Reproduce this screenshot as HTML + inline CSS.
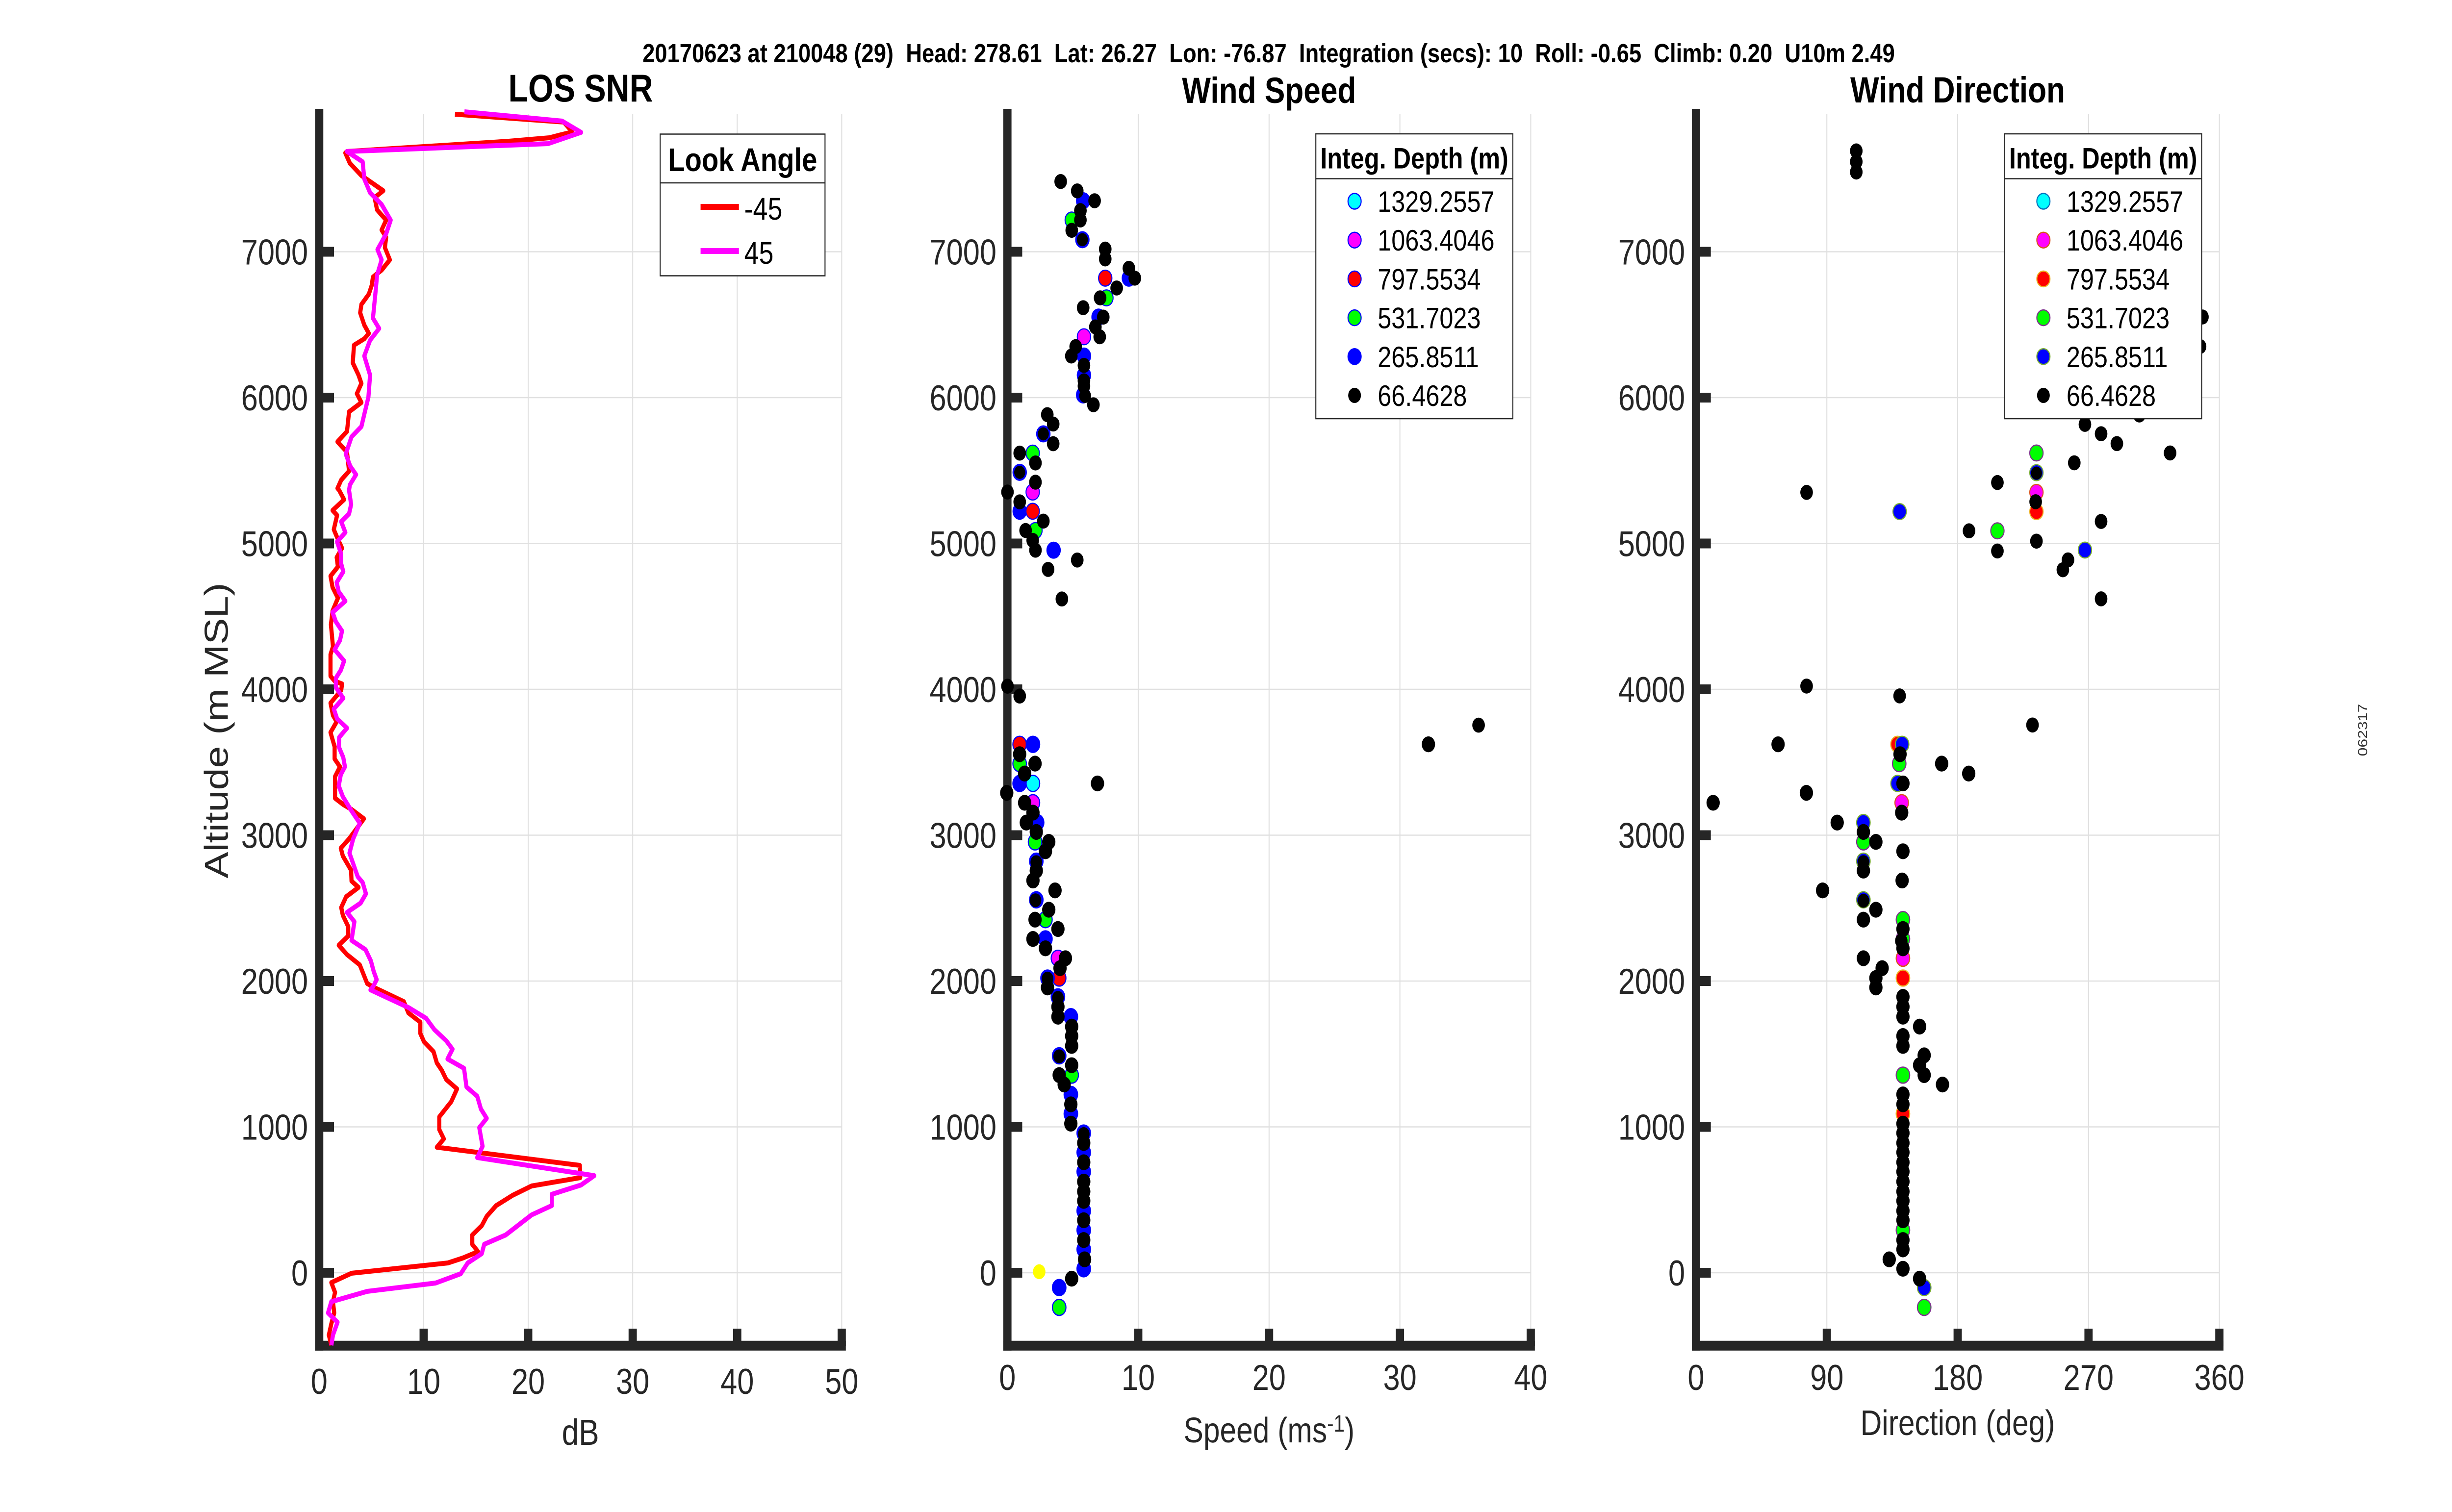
<!DOCTYPE html>
<html>
<head>
<meta charset="utf-8">
<style>
html,body{margin:0;padding:0;background:#fff;width:100%;height:100%;overflow:hidden;}
svg{display:block;position:absolute;left:0;top:0;width:100vw;height:100vh;}
text{font-family:"Liberation Sans",Arial,sans-serif;}
.t{font-size:73px;fill:#262626;}
.b{fill:#0000ff}.g{fill:#00ff00}.r{fill:#ff0000}.m{fill:#ff00ff}.c{fill:#00ffff}.y{fill:#ffff00}.k{fill:#000}
.p2 .b,.p2 .g,.p2 .r,.p2 .m,.p2 .c{stroke:#0000ff;stroke-width:2.5}
.p3 .c{stroke:#0072bd;stroke-width:2.5}.p3 .m{stroke:#d95319;stroke-width:2.5}.p3 .r{stroke:#edb120;stroke-width:2.5}.p3 .g{stroke:#7e2f8e;stroke-width:2.5}.p3 .b{stroke:#77ac30;stroke-width:2.5}
.grid line{stroke:#e0e0e0;stroke-width:2.5}
.ax{fill:#262626}
</style>
</head>
<body>
<svg viewBox="0 0 5950 3084" preserveAspectRatio="none" xmlns="http://www.w3.org/2000/svg">
<rect x="0" y="0" width="5950" height="3084" fill="#fff"/>

<!-- Main title -->
<text x="1559" y="127" font-size="54" font-weight="bold" fill="#000" style="white-space:pre" textLength="3039" lengthAdjust="spacingAndGlyphs">20170623 at 210048 (29)  Head: 278.61  Lat: 26.27  Lon: -76.87  Integration (secs): 10  Roll: -0.65  Climb: 0.20  U10m 2.49</text>

<!-- Panel titles -->
<text x="1409" y="207" font-size="79" font-weight="bold" text-anchor="middle" fill="#000">LOS SNR</text>
<text x="3079.5" y="210" font-size="74" font-weight="bold" text-anchor="middle" fill="#000">Wind Speed</text>
<text x="4750.5" y="209" font-size="74" font-weight="bold" text-anchor="middle" fill="#000">Wind Direction</text>

<!-- ===== GRIDS ===== -->
<g class="grid">
  <line x1="1028.1" y1="232" x2="1028.1" y2="2744.75"/>
  <line x1="1281.7" y1="232" x2="1281.7" y2="2744.75"/>
  <line x1="1535.3" y1="232" x2="1535.3" y2="2744.75"/>
  <line x1="1788.9" y1="232" x2="1788.9" y2="2744.75"/>
  <line x1="2042.5" y1="232" x2="2042.5" y2="2744.75"/>
  <line x1="774.5" y1="2596" x2="2042.5" y2="2596"/>
  <line x1="774.5" y1="2298.5" x2="2042.5" y2="2298.5"/>
  <line x1="774.5" y1="2001" x2="2042.5" y2="2001"/>
  <line x1="774.5" y1="1703.5" x2="2042.5" y2="1703.5"/>
  <line x1="774.5" y1="1406" x2="2042.5" y2="1406"/>
  <line x1="774.5" y1="1108.5" x2="2042.5" y2="1108.5"/>
  <line x1="774.5" y1="811" x2="2042.5" y2="811"/>
  <line x1="774.5" y1="513.5" x2="2042.5" y2="513.5"/>
  <line x1="2762" y1="232" x2="2762" y2="2744.75"/>
  <line x1="3079.5" y1="232" x2="3079.5" y2="2744.75"/>
  <line x1="3397" y1="232" x2="3397" y2="2744.75"/>
  <line x1="3714.5" y1="232" x2="3714.5" y2="2744.75"/>
  <line x1="2444.5" y1="2596" x2="3714.5" y2="2596"/>
  <line x1="2444.5" y1="2298.5" x2="3714.5" y2="2298.5"/>
  <line x1="2444.5" y1="2001" x2="3714.5" y2="2001"/>
  <line x1="2444.5" y1="1703.5" x2="3714.5" y2="1703.5"/>
  <line x1="2444.5" y1="1406" x2="3714.5" y2="1406"/>
  <line x1="2444.5" y1="1108.5" x2="3714.5" y2="1108.5"/>
  <line x1="2444.5" y1="811" x2="3714.5" y2="811"/>
  <line x1="2444.5" y1="513.5" x2="3714.5" y2="513.5"/>
  <line x1="4433" y1="232" x2="4433" y2="2744.75"/>
  <line x1="4750.5" y1="232" x2="4750.5" y2="2744.75"/>
  <line x1="5068" y1="232" x2="5068" y2="2744.75"/>
  <line x1="5385.5" y1="232" x2="5385.5" y2="2744.75"/>
  <line x1="4115.5" y1="2596" x2="5385.5" y2="2596"/>
  <line x1="4115.5" y1="2298.5" x2="5385.5" y2="2298.5"/>
  <line x1="4115.5" y1="2001" x2="5385.5" y2="2001"/>
  <line x1="4115.5" y1="1703.5" x2="5385.5" y2="1703.5"/>
  <line x1="4115.5" y1="1406" x2="5385.5" y2="1406"/>
  <line x1="4115.5" y1="1108.5" x2="5385.5" y2="1108.5"/>
  <line x1="4115.5" y1="811" x2="5385.5" y2="811"/>
  <line x1="4115.5" y1="513.5" x2="5385.5" y2="513.5"/>
</g>

<!-- ===== AXES ===== -->
<g class="ax">
  <rect x="764.5" y="222" width="20" height="2532.75"/>
  <rect x="764.5" y="2734.75" width="1288" height="20"/>
  <rect x="774.5" y="2586" width="36" height="20"/>
  <rect x="774.5" y="2288.5" width="36" height="20"/>
  <rect x="774.5" y="1991" width="36" height="20"/>
  <rect x="774.5" y="1693.5" width="36" height="20"/>
  <rect x="774.5" y="1396" width="36" height="20"/>
  <rect x="774.5" y="1098.5" width="36" height="20"/>
  <rect x="774.5" y="801" width="36" height="20"/>
  <rect x="774.5" y="503.5" width="36" height="20"/>
  <rect x="1018.1" y="2710" width="20" height="35"/>
  <rect x="1271.7" y="2710" width="20" height="35"/>
  <rect x="1525.3" y="2710" width="20" height="35"/>
  <rect x="1778.9" y="2710" width="20" height="35"/>
  <rect x="2032.5" y="2710" width="20" height="35"/>
  <rect x="2434.5" y="222" width="20" height="2532.75"/>
  <rect x="2434.5" y="2734.75" width="1290" height="20"/>
  <rect x="2444.5" y="2586" width="36" height="20"/>
  <rect x="2444.5" y="2288.5" width="36" height="20"/>
  <rect x="2444.5" y="1991" width="36" height="20"/>
  <rect x="2444.5" y="1693.5" width="36" height="20"/>
  <rect x="2444.5" y="1396" width="36" height="20"/>
  <rect x="2444.5" y="1098.5" width="36" height="20"/>
  <rect x="2444.5" y="801" width="36" height="20"/>
  <rect x="2444.5" y="503.5" width="36" height="20"/>
  <rect x="2752" y="2710" width="20" height="35"/>
  <rect x="3069.5" y="2710" width="20" height="35"/>
  <rect x="3387" y="2710" width="20" height="35"/>
  <rect x="3704.5" y="2710" width="20" height="35"/>
  <rect x="4105.5" y="222" width="20" height="2532.75"/>
  <rect x="4105.5" y="2734.75" width="1290" height="20"/>
  <rect x="4115.5" y="2586" width="36" height="20"/>
  <rect x="4115.5" y="2288.5" width="36" height="20"/>
  <rect x="4115.5" y="1991" width="36" height="20"/>
  <rect x="4115.5" y="1693.5" width="36" height="20"/>
  <rect x="4115.5" y="1396" width="36" height="20"/>
  <rect x="4115.5" y="1098.5" width="36" height="20"/>
  <rect x="4115.5" y="801" width="36" height="20"/>
  <rect x="4115.5" y="503.5" width="36" height="20"/>
  <rect x="4423" y="2710" width="20" height="35"/>
  <rect x="4740.5" y="2710" width="20" height="35"/>
  <rect x="5058" y="2710" width="20" height="35"/>
  <rect x="5375.5" y="2710" width="20" height="35"/>
</g>

<!-- ===== TICK LABELS ===== -->
<g class="t" text-anchor="end">
  <text x="747.5" y="2622">0</text>
  <text x="747.5" y="2324.5">1000</text>
  <text x="747.5" y="2027">2000</text>
  <text x="747.5" y="1729.5">3000</text>
  <text x="747.5" y="1432">4000</text>
  <text x="747.5" y="1134.5">5000</text>
  <text x="747.5" y="837">6000</text>
  <text x="747.5" y="539.5">7000</text>
  <text x="2418" y="2622">0</text>
  <text x="2418" y="2324.5">1000</text>
  <text x="2418" y="2027">2000</text>
  <text x="2418" y="1729.5">3000</text>
  <text x="2418" y="1432">4000</text>
  <text x="2418" y="1134.5">5000</text>
  <text x="2418" y="837">6000</text>
  <text x="2418" y="539.5">7000</text>
  <text x="4089" y="2622">0</text>
  <text x="4089" y="2324.5">1000</text>
  <text x="4089" y="2027">2000</text>
  <text x="4089" y="1729.5">3000</text>
  <text x="4089" y="1432">4000</text>
  <text x="4089" y="1134.5">5000</text>
  <text x="4089" y="837">6000</text>
  <text x="4089" y="539.5">7000</text>
</g>
<g class="t" text-anchor="middle">
  <text x="774.5" y="2843">0</text>
  <text x="1028.1" y="2843">10</text>
  <text x="1281.7" y="2843">20</text>
  <text x="1535.3" y="2843">30</text>
  <text x="1788.9" y="2843">40</text>
  <text x="2042.5" y="2843">50</text>
  <text x="2444.5" y="2835">0</text>
  <text x="2762" y="2835">10</text>
  <text x="3079.5" y="2835">20</text>
  <text x="3397" y="2835">30</text>
  <text x="3714.5" y="2835">40</text>
  <text x="4115.5" y="2835">0</text>
  <text x="4433" y="2835">90</text>
  <text x="4750.5" y="2835">180</text>
  <text x="5068" y="2835">270</text>
  <text x="5385.5" y="2835">360</text>
</g>

<!-- Axis labels -->
<text x="1408.5" y="2947" font-size="74" text-anchor="middle" fill="#262626">dB</text>
<text x="3079.5" y="2942" font-size="72" text-anchor="middle" fill="#262626">Speed (ms<tspan font-size="48" dy="-22">-1</tspan><tspan dy="22">)</tspan></text>
<text x="4750.5" y="2927" font-size="72" text-anchor="middle" fill="#262626">Direction (deg)</text>
<text transform="translate(552.7,1490) rotate(-90)" font-size="81" text-anchor="middle" fill="#262626">Altitude (m MSL)</text>
<text transform="translate(5744,1489) rotate(-90)" font-size="32" text-anchor="middle" fill="#333">062317</text>

<!-- ===== P1 LINES ===== -->
<g fill="none" stroke-width="10" stroke-linejoin="round" stroke-linecap="butt">
<polyline stroke="#ff0000" points="1104,233 1368,249 1389,269 1333,281 1235,288 842,309 838,312 849,333 877,358 930,389 909,403 915,428 937,449 926,469 937,484 934,505 946,530 926,551 905,565 902,582 895,600 877,621 874,638 884,663 895,680 884,691 859,704 856,740 870,765 877,782 866,803 877,821 847,840 842,880 819,901 842,922 847,961 828,979 819,996 823,1000 835,1019 807,1041 818,1051 810,1080 818,1096 830,1118 817,1137 820,1156 802,1175 807,1198 820,1220 807,1246 803,1274 808,1319 802,1335 802,1379 812,1389 830,1395 828,1408 802,1434 808,1459 817,1472 802,1494 812,1523 812,1548 825,1564 813,1584 813,1628 833,1641 853,1651 883,1670 847,1711 827,1730 832,1746 852,1775 853,1797 870,1810 840,1829 828,1851 832,1867 845,1890 845,1909 822,1928 842,1947 873,1968 891,2006 905,2013 980,2043 991,2066 1020,2085 1020,2108 1029,2125 1052,2145 1060,2168 1072,2183 1083,2202 1109,2221 1095,2247 1066,2278 1066,2304 1077,2323 1060,2340 1407,2377 1408,2402 1290,2419 1244,2438 1204,2459 1181,2481 1169,2500 1146,2519 1146,2538 1160,2553 1123,2566 1087,2576 853,2597 804,2616 813,2636 808,2655 811,2678 804,2700 798,2723 804,2744"/>
<polyline stroke="#ff00ff" points="1127,228 1364,247 1410,270 1330,293 842,309 880,330 884,365 898,393 926,417 948,449 937,477 916,509 926,530 915,561 912,589 905,649 920,670 898,694 884,726 898,765 894,810 884,845 877,870 853,891 839,926 850,951 864,968 849,989 847,1000 852,1029 847,1048 828,1064 838,1086 818,1105 827,1128 828,1150 833,1166 817,1188 822,1207 838,1226 807,1249 815,1268 830,1287 825,1306 812,1325 835,1348 827,1367 815,1383 815,1402 833,1424 810,1446 818,1466 842,1485 823,1504 822,1523 833,1545 837,1564 827,1580 822,1603 832,1625 853,1654 873,1679 857,1711 848,1740 868,1788 880,1800 888,1823 875,1842 842,1861 860,1880 853,1918 887,1937 900,1960 907,1982 914,1998 905,2013 899,2019 991,2055 1034,2077 1054,2100 1083,2123 1098,2140 1086,2160 1126,2179 1132,2217 1158,2236 1167,2262 1181,2281 1163,2300 1171,2338 1158,2361 1442,2398 1410,2417 1339,2436 1339,2459 1290,2478 1227,2519 1175,2538 1169,2557 1135,2576 1118,2598 1057,2617 891,2634 804,2655 796,2678 819,2697 808,2723 804,2744"/>
</g>

<!-- ===== P2 POINTS ===== -->
<g class="p2">
<g transform="translate(2350,200) scale(0.95666)">
  <circle class="b" cx="291" cy="219" r="17"/><circle class="b" cx="289" cy="302" r="17"/><circle class="b" cx="407" cy="384" r="17"/><circle class="b" cx="330" cy="467" r="17"/><circle class="b" cx="293" cy="550" r="17"/><circle class="b" cx="293" cy="591" r="17"/><circle class="b" cx="291" cy="633" r="17"/><circle class="b" cx="190" cy="716" r="17"/><circle class="b" cx="130" cy="798" r="17"/><circle class="b" cx="130" cy="881" r="17"/><circle class="b" cx="216" cy="964" r="17"/>
  <circle class="g" cx="262" cy="260" r="17"/><circle class="g" cx="350" cy="426" r="17"/><circle class="g" cx="163" cy="757" r="17"/><circle class="g" cx="170" cy="922" r="17"/>
  <circle class="r" cx="347" cy="384" r="17"/><circle class="r" cx="163" cy="881" r="17"/>
  <circle class="m" cx="293" cy="509" r="17"/><circle class="m" cx="163" cy="840" r="17"/>
  <circle class="k" cx="234" cy="178" r="16"/><circle class="k" cx="276" cy="198" r="16"/><circle class="k" cx="320" cy="219" r="16"/><circle class="k" cx="284" cy="240" r="16"/><circle class="k" cx="284" cy="260" r="16"/><circle class="k" cx="262" cy="282" r="16"/><circle class="k" cx="289" cy="302" r="14"/><circle class="k" cx="347" cy="322" r="16"/><circle class="k" cx="347" cy="343" r="16"/><circle class="k" cx="407" cy="363" r="16"/><circle class="k" cx="422" cy="384" r="16"/><circle class="k" cx="376" cy="405" r="16"/><circle class="k" cx="334" cy="426" r="16"/><circle class="k" cx="291" cy="447" r="16"/><circle class="k" cx="342" cy="467" r="16"/><circle class="k" cx="322" cy="488" r="16"/><circle class="k" cx="333" cy="509" r="16"/><circle class="k" cx="272" cy="530" r="16"/><circle class="k" cx="261" cy="550" r="16"/><circle class="k" cx="293" cy="570" r="16"/><circle class="k" cx="293" cy="603" r="16"/><circle class="k" cx="293" cy="614" r="16"/><circle class="k" cx="296" cy="635" r="15"/><circle class="k" cx="317" cy="654" r="16"/><circle class="k" cx="200" cy="675" r="16"/><circle class="k" cx="215" cy="695" r="16"/><circle class="k" cx="190" cy="716" r="14"/><circle class="k" cx="215" cy="737" r="16"/><circle class="k" cx="130" cy="757" r="16"/><circle class="k" cx="170" cy="778" r="16"/><circle class="k" cx="130" cy="798" r="14"/><circle class="k" cx="170" cy="819" r="16"/><circle class="k" cx="99" cy="840" r="16"/><circle class="k" cx="130" cy="861" r="16"/><circle class="k" cx="190" cy="902" r="16"/><circle class="k" cx="145" cy="922" r="16"/><circle class="k" cx="163" cy="943" r="16"/><circle class="k" cx="170" cy="964" r="16"/><circle class="k" cx="276" cy="985" r="16"/><circle class="k" cx="202" cy="1005" r="16"/><circle class="k" cx="237" cy="1068" r="16"/><circle class="k" cx="99" cy="1254" r="16"/><circle class="k" cx="130" cy="1275" r="16"/><circle class="k" cx="1294" cy="1337" r="16"/>
</g>
<g transform="translate(2350,1500) scale(1.0101)">
  <circle class="r" cx="123" cy="18" r="16.3"/><circle class="r" cx="218" cy="490" r="16.3"/>
  <circle class="b" cx="155" cy="18" r="16.3"/><circle class="b" cx="123" cy="97" r="16.3"/><circle class="b" cx="165" cy="176" r="16.3"/><circle class="b" cx="163" cy="254" r="16.3"/><circle class="b" cx="163" cy="332" r="16.3"/><circle class="b" cx="185" cy="411" r="16.3"/><circle class="b" cx="190" cy="490" r="16.3"/><circle class="b" cx="215" cy="528" r="16.3"/><circle class="b" cx="246" cy="568" r="16.3"/><circle class="b" cx="218" cy="647" r="16.3"/><circle class="b" cx="246" cy="725" r="16.3"/><circle class="b" cx="246" cy="764" r="16.3"/><circle class="b" cx="277" cy="803" r="16.3"/><circle class="b" cx="277" cy="842" r="16.3"/><circle class="b" cx="277" cy="881" r="16.3"/><circle class="b" cx="277" cy="960" r="16.3"/><circle class="b" cx="277" cy="999" r="16.3"/><circle class="b" cx="277" cy="1038" r="16.3"/><circle class="b" cx="277" cy="1077" r="16.3"/><circle class="b" cx="218" cy="1115" r="16.3"/>
  <circle class="g" cx="123" cy="57" r="16.3"/><circle class="g" cx="160" cy="215" r="16.3"/><circle class="g" cx="185" cy="372" r="16.3"/><circle class="g" cx="248" cy="686" r="16.3"/><circle class="g" cx="218" cy="1155" r="16.3"/>
  <circle class="c" cx="155" cy="97" r="16.3"/>
  <circle class="m" cx="155" cy="136" r="16.3"/><circle class="m" cx="215" cy="450" r="16.3"/>
  <circle class="y" cx="170" cy="1083" r="15"/>
  <circle class="k" cx="1105" cy="18" r="16"/><circle class="k" cx="123" cy="38" r="16"/><circle class="k" cx="160" cy="57" r="16"/><circle class="k" cx="135" cy="77" r="16"/><circle class="k" cx="310" cy="97" r="16"/><circle class="k" cx="92" cy="116" r="16"/><circle class="k" cx="135" cy="136" r="16"/><circle class="k" cx="155" cy="156" r="16"/><circle class="k" cx="139" cy="176" r="16"/><circle class="k" cx="163" cy="195" r="16"/><circle class="k" cx="193" cy="215" r="16"/><circle class="k" cx="185" cy="234" r="16"/><circle class="k" cx="163" cy="256" r="14"/><circle class="k" cx="163" cy="273" r="16"/><circle class="k" cx="155" cy="293" r="16"/><circle class="k" cx="208" cy="313" r="16"/><circle class="k" cx="161" cy="333" r="14"/><circle class="k" cx="193" cy="352" r="16"/><circle class="k" cx="160" cy="372" r="16"/><circle class="k" cx="215" cy="391" r="16"/><circle class="k" cx="155" cy="411" r="16"/><circle class="k" cx="185" cy="430" r="16"/><circle class="k" cx="233" cy="450" r="16"/><circle class="k" cx="220" cy="470" r="16"/><circle class="k" cx="190" cy="491" r="14"/><circle class="k" cx="190" cy="509" r="16"/><circle class="k" cx="215" cy="530" r="14"/><circle class="k" cx="215" cy="548" r="16"/><circle class="k" cx="215" cy="568" r="16"/><circle class="k" cx="248" cy="588" r="16"/><circle class="k" cx="248" cy="607" r="16"/><circle class="k" cx="248" cy="627" r="16"/><circle class="k" cx="218" cy="648" r="14"/><circle class="k" cx="248" cy="666" r="16"/><circle class="k" cx="218" cy="686" r="16"/><circle class="k" cx="230" cy="705" r="16"/><circle class="k" cx="246" cy="745" r="16"/><circle class="k" cx="246" cy="784" r="16"/><circle class="k" cx="277" cy="805" r="14"/><circle class="k" cx="277" cy="823" r="16"/><circle class="k" cx="277" cy="862" r="16"/><circle class="k" cx="277" cy="901" r="16"/><circle class="k" cx="277" cy="921" r="16"/><circle class="k" cx="277" cy="940" r="16"/><circle class="k" cx="277" cy="979" r="16"/><circle class="k" cx="277" cy="1019" r="16"/><circle class="k" cx="279" cy="1058" r="16"/><circle class="k" cx="248" cy="1097" r="16"/>
</g>
</g>

<!-- ===== P3 POINTS ===== -->
<g class="p3">
<g transform="translate(4050,150) scale(0.95666)">
  <circle class="g" cx="932" cy="809" r="17"/><circle class="g" cx="833" cy="975" r="17"/>
  <circle class="m" cx="932" cy="893" r="17"/>
  <circle class="b" cx="585" cy="934" r="17"/><circle class="b" cx="1055" cy="1016" r="17"/><circle class="b" cx="932" cy="851" r="17"/>
  <circle class="r" cx="932" cy="934" r="17"/>
  <circle class="k" cx="475" cy="165" r="16"/><circle class="k" cx="475" cy="188" r="16"/><circle class="k" cx="475" cy="210" r="16"/><circle class="k" cx="1353" cy="519" r="16"/><circle class="k" cx="1347" cy="582" r="16"/><circle class="k" cx="1250" cy="640" r="16"/><circle class="k" cx="1150" cy="690" r="16"/><circle class="k" cx="1193" cy="728" r="16"/><circle class="k" cx="1055" cy="748" r="16"/><circle class="k" cx="1096" cy="768" r="16"/><circle class="k" cx="1136" cy="789" r="16"/><circle class="k" cx="1271" cy="809" r="16"/><circle class="k" cx="1028" cy="830" r="16"/><circle class="k" cx="932" cy="852" r="14"/><circle class="k" cx="833" cy="872" r="16"/><circle class="k" cx="349" cy="893" r="16"/><circle class="k" cx="930" cy="913" r="16"/><circle class="k" cx="1096" cy="955" r="16"/><circle class="k" cx="761" cy="975" r="16"/><circle class="k" cx="932" cy="997" r="16"/><circle class="k" cx="833" cy="1018" r="16"/><circle class="k" cx="1012" cy="1037" r="16"/><circle class="k" cx="999" cy="1058" r="16"/><circle class="k" cx="1096" cy="1120" r="16"/><circle class="k" cx="349" cy="1306" r="16"/><circle class="k" cx="585" cy="1327" r="16"/><circle class="k" cx="922" cy="1389" r="16"/>
</g>
<g transform="translate(4050,1500) scale(1.0101)">
  <circle class="r" cx="549" cy="18" r="16.3"/><circle class="r" cx="562" cy="490" r="16.3"/><circle class="r" cx="562" cy="764" r="16.3"/>
  <circle class="b" cx="560" cy="18" r="16.3"/><circle class="b" cx="549" cy="97" r="16.3"/><circle class="b" cx="467" cy="176" r="16.3"/><circle class="b" cx="467" cy="254" r="16.3"/><circle class="b" cx="467" cy="332" r="16.3"/><circle class="b" cx="613" cy="1115" r="16.3"/>
  <circle class="g" cx="553" cy="57" r="16.3"/><circle class="g" cx="467" cy="215" r="16.3"/><circle class="g" cx="562" cy="372" r="16.3"/><circle class="g" cx="562" cy="411" r="16.3"/><circle class="g" cx="562" cy="686" r="16.3"/><circle class="g" cx="613" cy="1155" r="16.3"/><circle class="g" cx="562" cy="999" r="16.3"/>
  <circle class="m" cx="559" cy="136" r="16.3"/><circle class="m" cx="562" cy="450" r="16.3"/>
  <circle class="k" cx="262" cy="18" r="16"/><circle class="k" cx="555" cy="38" r="16"/><circle class="k" cx="655" cy="57" r="16"/><circle class="k" cx="720" cy="77" r="16"/><circle class="k" cx="562" cy="97" r="16"/><circle class="k" cx="330" cy="116" r="16"/><circle class="k" cx="106" cy="136" r="16"/><circle class="k" cx="559" cy="156" r="16"/><circle class="k" cx="404" cy="176" r="16"/><circle class="k" cx="467" cy="195" r="16"/><circle class="k" cx="497" cy="215" r="16"/><circle class="k" cx="562" cy="234" r="16"/><circle class="k" cx="467" cy="256" r="14"/><circle class="k" cx="467" cy="273" r="16"/><circle class="k" cx="560" cy="293" r="16"/><circle class="k" cx="369" cy="313" r="16"/><circle class="k" cx="467" cy="334" r="14"/><circle class="k" cx="497" cy="352" r="16"/><circle class="k" cx="467" cy="372" r="16"/><circle class="k" cx="562" cy="391" r="16"/><circle class="k" cx="558" cy="415" r="15"/><circle class="k" cx="562" cy="430" r="16"/><circle class="k" cx="467" cy="450" r="16"/><circle class="k" cx="512" cy="470" r="16"/><circle class="k" cx="497" cy="490" r="16"/><circle class="k" cx="497" cy="509" r="16"/><circle class="k" cx="562" cy="528" r="16"/><circle class="k" cx="562" cy="548" r="16"/><circle class="k" cx="562" cy="568" r="16"/><circle class="k" cx="602" cy="588" r="16"/><circle class="k" cx="562" cy="607" r="16"/><circle class="k" cx="562" cy="627" r="16"/><circle class="k" cx="613" cy="646" r="16"/><circle class="k" cx="602" cy="666" r="16"/><circle class="k" cx="613" cy="686" r="16"/><circle class="k" cx="657" cy="705" r="16"/><circle class="k" cx="562" cy="725" r="16"/><circle class="k" cx="562" cy="745" r="16"/><circle class="k" cx="562" cy="784" r="16"/><circle class="k" cx="562" cy="803" r="16"/><circle class="k" cx="562" cy="823" r="16"/><circle class="k" cx="562" cy="842" r="16"/><circle class="k" cx="562" cy="862" r="16"/><circle class="k" cx="562" cy="881" r="16"/><circle class="k" cx="562" cy="901" r="16"/><circle class="k" cx="562" cy="921" r="16"/><circle class="k" cx="562" cy="940" r="16"/><circle class="k" cx="562" cy="960" r="16"/><circle class="k" cx="562" cy="979" r="16"/><circle class="k" cx="562" cy="1019" r="16"/><circle class="k" cx="562" cy="1038" r="16"/><circle class="k" cx="529" cy="1058" r="16"/><circle class="k" cx="562" cy="1077" r="16"/><circle class="k" cx="602" cy="1097" r="16"/>
</g>
</g>

<!-- ===== LEGENDS ===== -->
<rect x="1602" y="273.5" width="400" height="289" fill="#fff" stroke="#262626" stroke-width="2.5"/>
<line x1="1602" y1="373" x2="2002" y2="373" stroke="#262626" stroke-width="2.5"/>
<text x="1802" y="349" font-size="67" font-weight="bold" text-anchor="middle" fill="#000">Look Angle</text>
<line x1="1700" y1="422" x2="1793" y2="422" stroke="#ff0000" stroke-width="12"/>
<line x1="1700" y1="512" x2="1793" y2="512" stroke="#ff00ff" stroke-width="12"/>
<text x="1806" y="448" font-size="64" fill="#000">-45</text>
<text x="1806" y="538" font-size="64" fill="#000">45</text>

<g class="p2">
<rect x="3193" y="273" width="478" height="581" fill="#fff" stroke="#262626" stroke-width="2.5"/>
<line x1="3193" y1="364.5" x2="3671" y2="364.5" stroke="#262626" stroke-width="2.5"/>
<text x="3432" y="343.5" font-size="60" font-weight="bold" text-anchor="middle" fill="#000">Integ. Depth (m)</text>
<circle class="c" cx="3287" cy="410.5" r="16"/>
<circle class="m" cx="3287" cy="489.7" r="16"/>
<circle class="r" cx="3287" cy="568.9" r="16"/>
<circle class="g" cx="3287" cy="648.1" r="16"/>
<circle class="b" cx="3287" cy="727.3" r="16"/>
<circle class="k" cx="3287" cy="806.5" r="15.5"/>
<g font-size="60" fill="#000">
<text x="3343" y="432">1329.2557</text>
<text x="3343" y="511.2">1063.4046</text>
<text x="3343" y="590.4">797.5534</text>
<text x="3343" y="669.6">531.7023</text>
<text x="3343" y="748.8">265.8511</text>
<text x="3343" y="828">66.4628</text>
</g>
</g>

<g class="p3">
<rect x="4864.5" y="273" width="478" height="581" fill="#fff" stroke="#262626" stroke-width="2.5"/>
<line x1="4864.5" y1="364.5" x2="5342.5" y2="364.5" stroke="#262626" stroke-width="2.5"/>
<text x="5103.5" y="343.5" font-size="60" font-weight="bold" text-anchor="middle" fill="#000">Integ. Depth (m)</text>
<circle class="c" cx="4958.5" cy="410.5" r="16"/>
<circle class="m" cx="4958.5" cy="489.7" r="16"/>
<circle class="r" cx="4958.5" cy="568.9" r="16"/>
<circle class="g" cx="4958.5" cy="648.1" r="16"/>
<circle class="b" cx="4958.5" cy="727.3" r="16"/>
<circle class="k" cx="4958.5" cy="806.5" r="15.5"/>
<g font-size="60" fill="#000">
<text x="5014.5" y="432">1329.2557</text>
<text x="5014.5" y="511.2">1063.4046</text>
<text x="5014.5" y="590.4">797.5534</text>
<text x="5014.5" y="669.6">531.7023</text>
<text x="5014.5" y="748.8">265.8511</text>
<text x="5014.5" y="828">66.4628</text>
</g>
</g>
</svg>
</body>
</html>
